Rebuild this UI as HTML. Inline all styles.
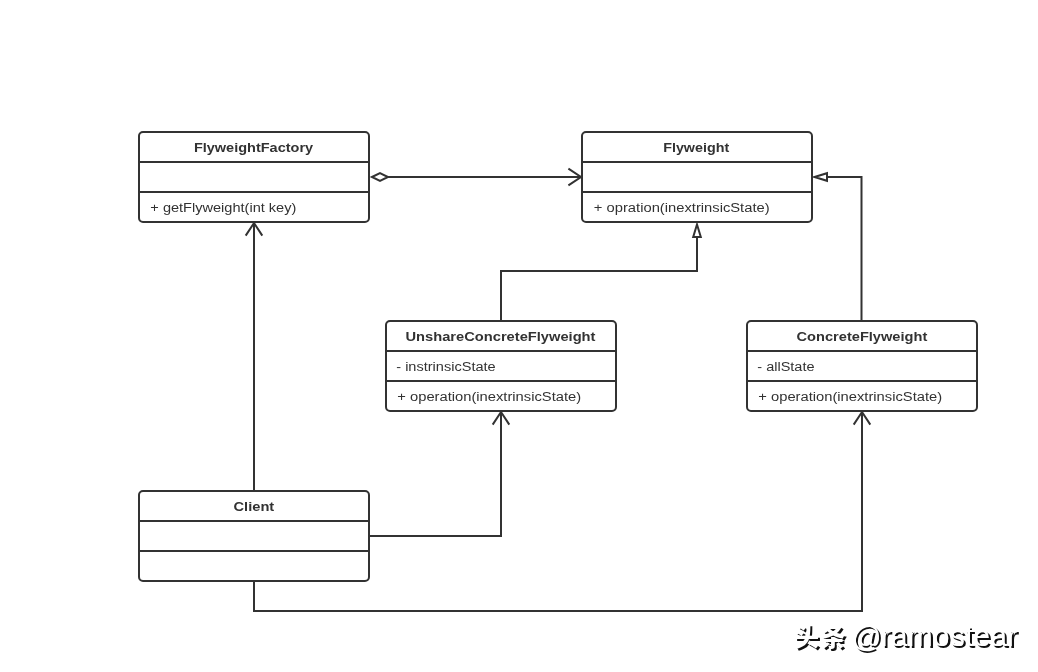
<!DOCTYPE html>
<html>
<head>
<meta charset="utf-8">
<title>Flyweight UML</title>
<style>
html,body{margin:0;padding:0;background:#fff;}
body{width:1038px;height:672px;overflow:hidden;position:relative;}
svg{position:absolute;left:0;top:0;display:block;will-change:transform;}
.b{fill:#fff;stroke:#323232;stroke-width:2;}
.l{fill:none;stroke:#323232;stroke-width:2;stroke-linejoin:miter;}
.a{fill:none;stroke:#323232;stroke-width:2;stroke-linejoin:miter;stroke-linecap:butt;}
.h{fill:#fff;stroke:#323232;stroke-width:2;stroke-linejoin:miter;}
text{font-family:"Liberation Sans","Noto Sans CJK SC",sans-serif;fill:#323232;white-space:pre;}
.t{font-weight:bold;font-size:13.7px;}
.m{font-size:13.7px;}
.wm text{fill:#fff;text-shadow:2px 2px 0 #111;}
.wc{font-size:25px;font-weight:900;}
.wl{font-size:29px;}
</style>
</head>
<body>
<svg width="1038" height="672" viewBox="0 0 1038 672">
<g>
<path class="l" d="M388 177H581"/>
<path class="h" d="M372 177L380 173.200L388 177L380 180.800Z"/>
<path class="a" d="M568.4 168.7L581 177L568.4 185.3"/>
<path class="l" d="M254 491V223"/>
<path class="a" d="M245.7 235.6L254 223L262.3 235.6"/>
<path class="l" d="M501 321V271H697V237"/>
<path class="h" d="M697 224.500L700.800 237H693.200Z"/>
<path class="l" d="M861.500 321V177H827"/>
<path class="h" d="M814.500 177L827 173.200V180.800Z"/>
<path class="l" d="M369 536H501V412"/>
<path class="a" d="M492.7 424.6L501 412L509.3 424.6"/>
<path class="l" d="M254 581V611H862V412"/>
<path class="a" d="M853.7 424.6L862 412L870.3 424.6"/>
</g>
<rect class="b" x="139" y="132" width="230" height="90" rx="4"/>
<path class="l" d="M139 162H369 M139 192H369"/>
<rect class="b" x="582" y="132" width="230" height="90" rx="4"/>
<path class="l" d="M582 162H812 M582 192H812"/>
<rect class="b" x="386" y="321" width="230" height="90" rx="4"/>
<path class="l" d="M386 351H616 M386 381H616"/>
<rect class="b" x="747" y="321" width="230" height="90" rx="4"/>
<path class="l" d="M747 351H977 M747 381H977"/>
<rect class="b" x="139" y="491" width="230" height="90" rx="4"/>
<path class="l" d="M139 521H369 M139 551H369"/>
<text class="t" x="193.90" y="151.6" textLength="119.21" lengthAdjust="spacingAndGlyphs">FlyweightFactory</text>
<text class="m" x="150.35" y="211.8" textLength="145.97" lengthAdjust="spacingAndGlyphs">+ getFlyweight(int key)</text>
<text class="t" x="663.20" y="151.6" textLength="65.97" lengthAdjust="spacingAndGlyphs">Flyweight</text>
<text class="m" x="593.85" y="211.8" textLength="175.77" lengthAdjust="spacingAndGlyphs">+ opration(inextrinsicState)</text>
<text class="t" x="405.50" y="340.6" textLength="189.96" lengthAdjust="spacingAndGlyphs">UnshareConcreteFlyweight</text>
<text class="m" x="396.25" y="370.8" textLength="99.42" lengthAdjust="spacingAndGlyphs">- instrinsicState</text>
<text class="m" x="397.30" y="400.8" textLength="183.82" lengthAdjust="spacingAndGlyphs">+ operation(inextrinsicState)</text>
<text class="t" x="796.55" y="340.6" textLength="130.71" lengthAdjust="spacingAndGlyphs">ConcreteFlyweight</text>
<text class="m" x="757.30" y="370.8" textLength="57.23" lengthAdjust="spacingAndGlyphs">- allState</text>
<text class="m" x="758.30" y="400.8" textLength="183.82" lengthAdjust="spacingAndGlyphs">+ operation(inextrinsicState)</text>
<text class="t" x="233.50" y="510.6" textLength="40.76" lengthAdjust="spacingAndGlyphs">Client</text>
<g class="wm">
<text class="wc" x="794 820.4" y="646.4">头条</text>
<text class="wl" x="851.4" y="646.3"><tspan style="font-size:29.5px" dy="0.5">@</tspan><tspan dx="-0.7" dy="-0.5" textLength="136.5" lengthAdjust="spacingAndGlyphs">ramostear</tspan></text>
</g>
</svg>
</body>
</html>
